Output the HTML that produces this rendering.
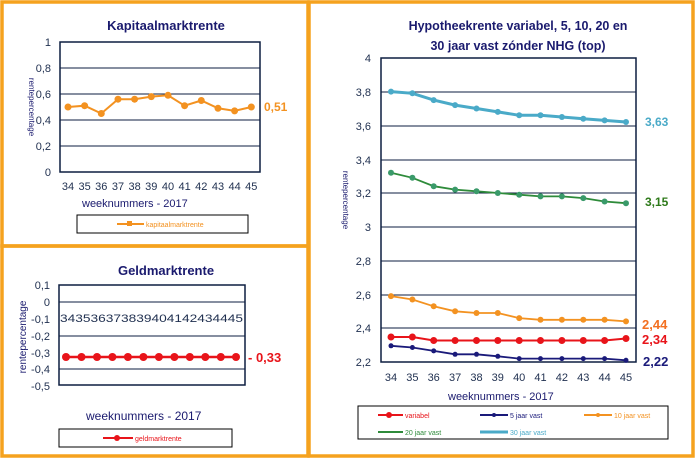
<!DOCTYPE html>
<html><head><meta charset="utf-8"><style>
body{margin:0;background:#fff}
svg{display:block}
text{font-family:"Liberation Sans",sans-serif}
</style></head><body>
<svg width="696" height="459" xmlns="http://www.w3.org/2000/svg">
<rect x="0" y="0" width="696" height="459" fill="#fff"/>
<!-- frames -->
<g fill="none" stroke="#f5a21e" stroke-width="3.5">
<rect x="2" y="2" width="306" height="244"/>
<rect x="2" y="246" width="306" height="210"/>
<rect x="309" y="2" width="384" height="454"/>
</g>

<!-- Kapitaalmarktrente -->
<text x="166" y="30" font-size="13" font-weight="bold" fill="#1a1a6e" text-anchor="middle">Kapitaalmarktrente</text>
<g stroke="#0d1e40" stroke-width="1">
<line x1="60" y1="68" x2="260" y2="68"/><line x1="60" y1="94" x2="260" y2="94"/>
<line x1="60" y1="120" x2="260" y2="120"/><line x1="60" y1="146" x2="260" y2="146"/>
</g>
<rect x="60" y="42" width="200" height="130" fill="none" stroke="#0d1e40" stroke-width="1.5"/>
<g font-size="11" fill="#1f2f4f" text-anchor="end">
<text x="51" y="46">1</text><text x="51" y="72">0,8</text><text x="51" y="98">0,6</text><text x="51" y="124">0,4</text><text x="51" y="150">0,2</text><text x="51" y="176">0</text>
</g>
<text transform="translate(29,107) rotate(90)" font-size="8" fill="#1a1a6e" text-anchor="middle">rentepercentage</text>
<g font-size="11" fill="#1f2f4f" text-anchor="middle">
<text x="68" y="190">34</text><text x="84.6" y="190">35</text><text x="101.3" y="190">36</text><text x="118" y="190">37</text><text x="134.6" y="190">38</text><text x="151.3" y="190">39</text><text x="168" y="190">40</text><text x="184.6" y="190">41</text><text x="201.3" y="190">42</text><text x="218" y="190">43</text><text x="234.6" y="190">44</text><text x="251.3" y="190">45</text>
</g>
<text x="82" y="207" font-size="11" fill="#1a1a6e">weeknummers - 2017</text>
<polyline fill="none" stroke="#f39221" stroke-width="2" points="68,107 84.6,105.7 101.3,113.5 118,99.2 134.6,99.2 151.3,96.6 168,95.3 184.6,105.7 201.3,100.5 218,108.3 234.6,110.9 251.3,107"/>
<g fill="#f39221">
<circle cx="68" cy="107" r="3.5"/><circle cx="84.6" cy="105.7" r="3.5"/><circle cx="101.3" cy="113.5" r="3.5"/><circle cx="118" cy="99.2" r="3.5"/><circle cx="134.6" cy="99.2" r="3.5"/><circle cx="151.3" cy="96.6" r="3.5"/><circle cx="168" cy="95.3" r="3.5"/><circle cx="184.6" cy="105.7" r="3.5"/><circle cx="201.3" cy="100.5" r="3.5"/><circle cx="218" cy="108.3" r="3.5"/><circle cx="234.6" cy="110.9" r="3.5"/><circle cx="251.3" cy="107" r="3.5"/>
</g>
<text x="264" y="111" font-size="12" font-weight="bold" fill="#f39221">0,51</text>
<rect x="77" y="215" width="171" height="18" fill="#fff" stroke="#000" stroke-width="1"/>
<line x1="117" y1="224" x2="144" y2="224" stroke="#f39221" stroke-width="2"/><rect x="127" y="221" width="5" height="5" fill="#f39221"/>
<text x="146" y="227" font-size="7" fill="#f39221">kapitaalmarktrente</text>

<!-- Geldmarktrente -->
<text x="166" y="275" font-size="13" font-weight="bold" fill="#1a1a6e" text-anchor="middle">Geldmarktrente</text>
<g stroke="#0d1e40" stroke-width="1">
<line x1="59" y1="302" x2="245" y2="302"/><line x1="59" y1="336" x2="245" y2="336"/><line x1="59" y1="369" x2="245" y2="369"/>
</g>
<rect x="59" y="285" width="186" height="100" fill="none" stroke="#0d1e40" stroke-width="1.5"/>
<g font-size="11" fill="#1f2f4f" text-anchor="end">
<text x="50" y="289">0,1</text><text x="50" y="306">0</text><text x="50" y="323">-0,1</text><text x="50" y="340">-0,2</text><text x="50" y="357">-0,3</text><text x="50" y="373">-0,4</text><text x="50" y="390">-0,5</text>
</g>
<text transform="translate(26,337) rotate(-90)" font-size="10" fill="#1a1a6e" text-anchor="middle">rentepercentage</text>
<text x="60" y="322" font-size="11" fill="#1f2f4f" textLength="183" lengthAdjust="spacingAndGlyphs">343536373839404142434445</text>
<line x1="66" y1="357" x2="236" y2="357" stroke="#e8141a" stroke-width="2.5"/>
<g fill="#e8141a">
<circle cx="66" cy="357" r="4"/><circle cx="81.5" cy="357" r="4"/><circle cx="97" cy="357" r="4"/><circle cx="112.4" cy="357" r="4"/><circle cx="127.9" cy="357" r="4"/><circle cx="143.4" cy="357" r="4"/><circle cx="158.9" cy="357" r="4"/><circle cx="174.4" cy="357" r="4"/><circle cx="189.8" cy="357" r="4"/><circle cx="205.3" cy="357" r="4"/><circle cx="220.8" cy="357" r="4"/><circle cx="236" cy="357" r="4"/>
</g>
<text x="248" y="362" font-size="13" font-weight="bold" fill="#e8141a">- 0,33</text>
<text x="86" y="420" font-size="12" fill="#1a1a6e">weeknummers - 2017</text>
<rect x="59" y="429" width="173" height="18" fill="#fff" stroke="#000" stroke-width="1"/>
<line x1="103" y1="438" x2="133" y2="438" stroke="#e8141a" stroke-width="2"/><circle cx="117" cy="438" r="3" fill="#e8141a"/>
<text x="135" y="441" font-size="7" fill="#e8141a">geldmarktrente</text>

<!-- Hypotheekrente -->
<text x="518" y="30" font-size="12.5" font-weight="bold" fill="#1a1a6e" text-anchor="middle">Hypotheekrente variabel, 5, 10, 20 en</text>
<text x="518" y="50" font-size="12.5" font-weight="bold" fill="#1a1a6e" text-anchor="middle">30 jaar vast zónder NHG (top)</text>
<g stroke="#0d1e40" stroke-width="1">
<line x1="381" y1="92" x2="636" y2="92"/><line x1="381" y1="126" x2="636" y2="126"/><line x1="381" y1="160" x2="636" y2="160"/><line x1="381" y1="193" x2="636" y2="193"/><line x1="381" y1="227" x2="636" y2="227"/><line x1="381" y1="261" x2="636" y2="261"/><line x1="381" y1="295" x2="636" y2="295"/><line x1="381" y1="328" x2="636" y2="328"/>
</g>
<rect x="381" y="58" width="255" height="304" fill="none" stroke="#0d1e40" stroke-width="1.5"/>
<g font-size="11" fill="#1f2f4f" text-anchor="end">
<text x="371" y="62">4</text><text x="371" y="96">3,8</text><text x="371" y="130">3,6</text><text x="371" y="164">3,4</text><text x="371" y="197">3,2</text><text x="371" y="231">3</text><text x="371" y="265">2,8</text><text x="371" y="299">2,6</text><text x="371" y="332">2,4</text><text x="371" y="366">2,2</text>
</g>
<text transform="translate(343,200) rotate(90)" font-size="8" fill="#1a1a6e" text-anchor="middle">rentepercentage</text>
<g font-size="11" fill="#1f2f4f" text-anchor="middle">
<text x="391" y="381">34</text><text x="412.4" y="381">35</text><text x="433.7" y="381">36</text><text x="455.1" y="381">37</text><text x="476.5" y="381">38</text><text x="497.8" y="381">39</text><text x="519.2" y="381">40</text><text x="540.5" y="381">41</text><text x="561.9" y="381">42</text><text x="583.3" y="381">43</text><text x="604.6" y="381">44</text><text x="626" y="381">45</text>
</g>
<text x="448" y="400" font-size="11" fill="#1a1a6e">weeknummers - 2017</text>
<!-- series: y = 362 - (v-2.2)*169 -->
<polyline fill="none" stroke="#4aaac8" stroke-width="3" points="391,91.6 412.4,93.3 433.7,100.1 455.1,105.1 476.5,108.5 497.8,111.9 519.2,115.3 540.5,115.3 561.9,117 583.3,118.7 604.6,120.4 626,122"/>
<g fill="#4aaac8"><circle cx="391" cy="91.6" r="3"/><circle cx="412.4" cy="93.3" r="3"/><circle cx="433.7" cy="100.1" r="3"/><circle cx="455.1" cy="105.1" r="3"/><circle cx="476.5" cy="108.5" r="3"/><circle cx="497.8" cy="111.9" r="3"/><circle cx="519.2" cy="115.3" r="3"/><circle cx="540.5" cy="115.3" r="3"/><circle cx="561.9" cy="117" r="3"/><circle cx="583.3" cy="118.7" r="3"/><circle cx="604.6" cy="120.4" r="3"/><circle cx="626" cy="122" r="3"/></g>
<polyline fill="none" stroke="#2e8b3a" stroke-width="1.8" points="391,172.7 412.4,177.8 433.7,186.2 455.1,189.6 476.5,191.3 497.8,193 519.2,194.7 540.5,196.4 561.9,196.4 583.3,198.1 604.6,201.5 626,203.2"/>
<g fill="#3a9a6a"><circle cx="391" cy="172.7" r="3"/><circle cx="412.4" cy="177.8" r="3"/><circle cx="433.7" cy="186.2" r="3"/><circle cx="455.1" cy="189.6" r="3"/><circle cx="476.5" cy="191.3" r="3"/><circle cx="497.8" cy="193" r="3"/><circle cx="519.2" cy="194.7" r="3"/><circle cx="540.5" cy="196.4" r="3"/><circle cx="561.9" cy="196.4" r="3"/><circle cx="583.3" cy="198.1" r="3"/><circle cx="604.6" cy="201.5" r="3"/><circle cx="626" cy="203.2" r="3"/></g>
<polyline fill="none" stroke="#f39221" stroke-width="1.8" points="391,296.1 412.4,299.5 433.7,306.3 455.1,311.3 476.5,313 497.8,313 519.2,318.1 540.5,319.8 561.9,319.8 583.3,319.8 604.6,319.8 626,321.4"/>
<g fill="#f39221"><circle cx="391" cy="296.1" r="3"/><circle cx="412.4" cy="299.5" r="3"/><circle cx="433.7" cy="306.3" r="3"/><circle cx="455.1" cy="311.3" r="3"/><circle cx="476.5" cy="313" r="3"/><circle cx="497.8" cy="313" r="3"/><circle cx="519.2" cy="318.1" r="3"/><circle cx="540.5" cy="319.8" r="3"/><circle cx="561.9" cy="319.8" r="3"/><circle cx="583.3" cy="319.8" r="3"/><circle cx="604.6" cy="319.8" r="3"/><circle cx="626" cy="321.4" r="3"/></g>
<polyline fill="none" stroke="#e8141a" stroke-width="2" points="391,337 412.4,337 433.7,340.5 455.1,340.5 476.5,340.5 497.8,340.5 519.2,340.5 540.5,340.5 561.9,340.5 583.3,340.5 604.6,340.5 626,338.5"/>
<g fill="#e8141a"><circle cx="391" cy="337" r="3.5"/><circle cx="412.4" cy="337" r="3.5"/><circle cx="433.7" cy="340.5" r="3.5"/><circle cx="455.1" cy="340.5" r="3.5"/><circle cx="476.5" cy="340.5" r="3.5"/><circle cx="497.8" cy="340.5" r="3.5"/><circle cx="519.2" cy="340.5" r="3.5"/><circle cx="540.5" cy="340.5" r="3.5"/><circle cx="561.9" cy="340.5" r="3.5"/><circle cx="583.3" cy="340.5" r="3.5"/><circle cx="604.6" cy="340.5" r="3.5"/><circle cx="626" cy="338.5" r="3.5"/></g>
<polyline fill="none" stroke="#1a1a7a" stroke-width="1.8" points="391,345.8 412.4,347.5 433.7,350.9 455.1,354.3 476.5,354.3 497.8,356.3 519.2,358.6 540.5,358.6 561.9,358.6 583.3,358.6 604.6,358.6 626,360.3"/>
<g fill="#1a1a7a"><circle cx="391" cy="345.8" r="2.5"/><circle cx="412.4" cy="347.5" r="2.5"/><circle cx="433.7" cy="350.9" r="2.5"/><circle cx="455.1" cy="354.3" r="2.5"/><circle cx="476.5" cy="354.3" r="2.5"/><circle cx="497.8" cy="356.3" r="2.5"/><circle cx="519.2" cy="358.6" r="2.5"/><circle cx="540.5" cy="358.6" r="2.5"/><circle cx="561.9" cy="358.6" r="2.5"/><circle cx="583.3" cy="358.6" r="2.5"/><circle cx="604.6" cy="358.6" r="2.5"/><circle cx="626" cy="360.3" r="2.5"/></g>
<text x="645" y="126" font-size="12" font-weight="bold" fill="#4aaac8" font-family="Liberation Serif">3,63</text>
<text x="645" y="206" font-size="12" font-weight="bold" fill="#2e7a1a" font-family="Liberation Serif">3,15</text>
<text x="642" y="329" font-size="13" font-weight="bold" fill="#f37021">2,44</text>
<text x="642" y="344" font-size="13" font-weight="bold" fill="#e8141a">2,34</text>
<text x="643" y="366" font-size="13" font-weight="bold" fill="#1a1a7a">2,22</text>
<rect x="358" y="406" width="310" height="33" fill="#fff" stroke="#000" stroke-width="1"/>
<line x1="378" y1="415" x2="403" y2="415" stroke="#e8141a" stroke-width="2"/><circle cx="389" cy="415" r="3" fill="#e8141a"/>
<text x="405" y="418" font-size="7" fill="#e8141a">variabel</text>
<line x1="480" y1="415" x2="508" y2="415" stroke="#1a1a7a" stroke-width="2"/><circle cx="494" cy="415" r="2" fill="#1a1a7a"/>
<text x="510" y="418" font-size="7" fill="#1a1a7a">5 jaar vast</text>
<line x1="584" y1="415" x2="612" y2="415" stroke="#f39221" stroke-width="2"/><circle cx="598" cy="415" r="2" fill="#f39221"/>
<text x="614" y="418" font-size="7" fill="#f39221">10 jaar vast</text>
<line x1="378" y1="432" x2="403" y2="432" stroke="#2e8b3a" stroke-width="2"/>
<text x="405" y="435" font-size="7" fill="#2e8b3a">20 jaar vast</text>
<line x1="480" y1="432" x2="508" y2="432" stroke="#4aaac8" stroke-width="3"/>
<text x="510" y="435" font-size="7" fill="#4aaac8">30 jaar vast</text>
</svg>
</body></html>
